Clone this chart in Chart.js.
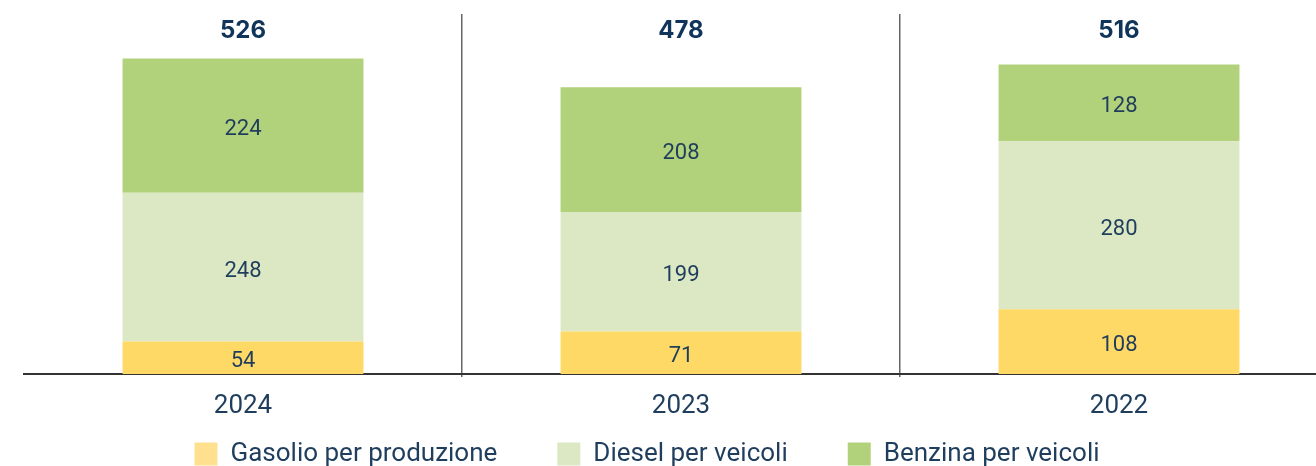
<!DOCTYPE html>
<html>
<head>
<meta charset="utf-8">
<script src="https://cdn.jsdelivr.net/npm/chart.js@4"></script>
<style>
  html, body { margin: 0; padding: 0; background: #fff; overflow: hidden; }
  #wrap { width: 1316px; height: 466px; overflow: hidden; }
</style>
</head>
<body>
<div id="wrap"><canvas id="fuel-chart" width="1340" height="466"></canvas></div>
<script>
const years = ['2024', '2023', '2022']
const gasolioProduzione = [54, 71, 108]
const dieselVeicoli = [248, 199, 280]
const benzinaVeicoli = [224, 208, 128]

const textColor = '#1f3d5c'
const totalColor = '#10345a'
// legend swatches are a touch paler than the bars in the original
const legendColors = ['#ffe08e', '#dbe8c3', '#b1d17a']

// segment values in the middle of each bar piece, totals on top row
const barLabels = {
  id: 'barLabels',
  afterDatasetsDraw(chart) {
    const ctx = chart.ctx
    ctx.save()
    ctx.textAlign = 'center'
    ctx.textBaseline = 'middle'
    ctx.fillStyle = textColor
    ctx.font = '22px Roboto'
    chart.data.datasets.forEach((ds, d) => {
      chart.getDatasetMeta(d).data.forEach((bar, i) => {
        ctx.fillText(ds.data[i], bar.x, (bar.y + bar.base) / 2 + 4)
      })
    })
    ctx.fillStyle = totalColor
    ctx.font = 'bold 24px Inter'
    const meta = chart.getDatasetMeta(0)
    years.forEach((y, i) => {
      const total = chart.data.datasets.reduce((s, ds) => s + ds.data[i], 0)
      ctx.fillText(total, meta.data[i].x, chart.chartArea.top + 17)
    })
    ctx.restore()
  }
}

const config = {
  type: 'bar',
  data: {
    labels: years,
    datasets: [
      { label: 'Gasolio per produzione', data: gasolioProduzione, backgroundColor: '#ffd966' },
      { label: 'Diesel per veicoli', data: dieselVeicoli, backgroundColor: '#dbe8c3' },
      { label: 'Benzina per veicoli', data: benzinaVeicoli, backgroundColor: '#b1d17a' },
    ],
  },
  options: {
    responsive: false,
    animation: false,
    categoryPercentage: 1,
    barPercentage: 0.55,
    layout: { padding: { left: -44, right: 2, top: 14, bottom: -11 } },
    scales: {
      x: {
        stacked: true,
        grid: {
          offset: true,
          tickLength: 3,
          lineWidth: 1.5,
          color: (c) => (c.index === 1 || c.index === 2 ? '#666' : 'rgba(0,0,0,0)'),
        },
        border: { color: '#333', width: 2 },
        // mirror + negative padding: labels sit below a thin axis box without being clipped
        ticks: { color: textColor, font: { family: 'Roboto', size: 26 }, mirror: true, padding: -48 },
        afterFit: (scale) => { scale.height = 7 },
      },
      y: {
        stacked: true,
        min: 0,
        max: 600,
        grid: { display: false },
        border: { display: false },
        ticks: { display: false },
        afterFit: (scale) => { scale.width = 68 },
      },
    },
    plugins: {
      legend: {
        position: 'bottom',
        labels: {
          boxWidth: 23,
          boxHeight: 23,
          padding: 60,
          color: textColor,
          font: { family: 'Roboto', size: 26 },
          generateLabels: (chart) => {
            const items = Chart.defaults.plugins.legend.labels.generateLabels(chart)
            items.forEach((it, i) => {
              it.fillStyle = legendColors[i]
              it.lineWidth = 0
            })
            return items
          },
        },
      },
      tooltip: { enabled: false },
    },
  },
  plugins: [barLabels],
}

const fuelChart = document.getElementById('fuel-chart')
window.myBar = new Chart(fuelChart, config)
</script>
</body>
</html>
